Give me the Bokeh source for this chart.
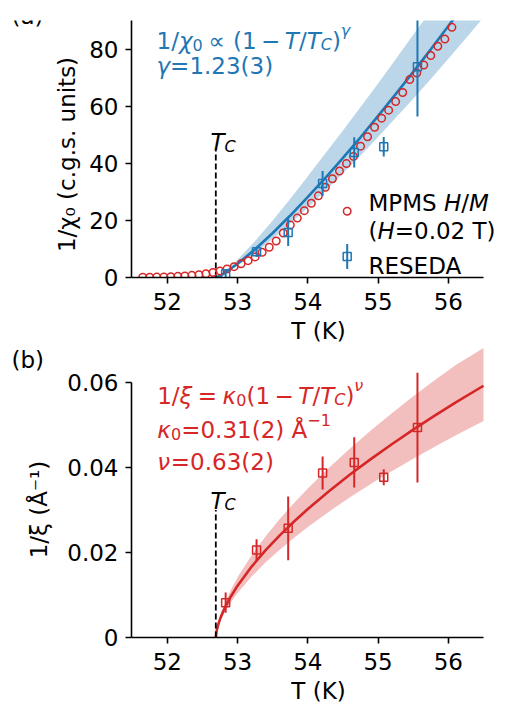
from math import pi
from bokeh.plotting import figure
from bokeh.models import Label, FixedTicker, Range1d, ColumnDataSource
from bokeh.layouts import column, row
from bokeh.embed import file_html
from bokeh.resources import INLINE

# ---------------- data ----------------
mpms_T = [51.65, 51.75, 51.85, 51.95, 52.05, 52.15, 52.25, 52.35, 52.45, 52.55,
          52.65, 52.75, 52.85, 52.95, 53.05, 53.15, 53.25, 53.35, 53.45, 53.55,
          53.65, 53.75, 53.85, 53.95, 54.05, 54.15, 54.25, 54.35, 54.45, 54.55,
          54.65, 54.75, 54.85, 54.95, 55.05, 55.15, 55.25, 55.35, 55.45, 55.55,
          55.65, 55.75, 55.85, 55.95, 56.05]
mpms_inv_chi = [0.1, 0.1, 0.15, 0.2, 0.3, 0.4, 0.55, 0.75, 1.0, 1.3,
                1.75, 2.3, 3.0, 3.8, 4.8, 5.9, 7.2, 8.8, 10.6, 12.8,
                15.6, 18.4, 20.8, 23.4, 26.0, 28.6, 31.6, 34.6, 37.3, 39.9,
                42.4, 46.0, 49.3, 52.6, 55.8, 58.6, 61.6, 64.8, 69.3, 71.6,
                74.4, 77.7, 81.0, 83.5, 87.6]

reseda_T = [52.83, 53.27, 53.72, 54.21, 54.66, 55.08, 55.56]
reseda_inv_chi = [1.3, 9.0, 15.8, 32.9, 43.8, 45.8, 73.8]
reseda_inv_chi_err = [1.4, 1.8, 4.8, 4.4, 5.3, 3.4, 17.4]
reseda_inv_xi = [0.0082, 0.0206, 0.0257, 0.0387, 0.0412, 0.0377, 0.0494]
reseda_inv_xi_err = [0.0024, 0.0025, 0.0075, 0.0039, 0.0059, 0.0019, 0.0129]

Tc = 52.69
tc_line_top = [45.0, 0.030]

fit_chi_T = [52.69, 52.75, 52.8, 53.0, 53.25, 53.5, 53.75, 54.0, 54.25, 54.5,
             54.75, 55.0, 55.25, 55.5, 55.75, 56.0, 56.25, 56.5]
fit_chi = [0.0, 0.63, 1.3, 4.8, 9.9, 15.6, 21.7, 28.2, 34.9, 41.9,
           49.1, 56.6, 64.2, 72.0, 79.9, 88.1, 96.3, 104.7]
fit_chi_hi = [0.0, 0.82, 1.69, 6.2, 12.8, 20.0, 27.6, 35.5, 43.5, 51.5,
              59.7, 67.9, 76.4, 85.0, 93.5, 102.2, 111.2, 120.4]
fit_chi_lo = [0.0, 0.55, 1.13, 4.2, 8.6, 13.6, 18.9, 24.5, 30.4, 36.5,
              42.7, 49.2, 55.9, 62.6, 69.5, 76.6, 83.8, 91.1]

fit_xi_T = [52.69, 52.70, 52.72, 52.75, 52.80, 52.90, 53.0, 53.2, 53.4, 53.6,
            53.8, 54.0, 54.3, 54.6, 54.9, 55.2, 55.5, 55.8, 56.1, 56.5]
fit_xi = [0.0, 0.00140, 0.00280, 0.00434, 0.00635, 0.00954, 0.01220, 0.01669, 0.02056, 0.02404,
          0.02724, 0.03024, 0.03443, 0.03835, 0.04204, 0.04554, 0.04891, 0.05214, 0.05525, 0.05924]
fit_xi_hi = [0.0, 0.00163, 0.00325, 0.00503, 0.00737, 0.01107, 0.01415, 0.01936, 0.02385, 0.02789,
             0.03160, 0.03508, 0.03994, 0.04449, 0.04877, 0.05283, 0.05674, 0.06048, 0.06409, 0.06810]
fit_xi_lo = [0.0, 0.00120, 0.00241, 0.00373, 0.00546, 0.00820, 0.01049, 0.01435, 0.01768, 0.02067,
             0.02343, 0.02601, 0.02961, 0.03298, 0.03615, 0.03916, 0.04206, 0.04484, 0.04752, 0.05095]

x_ticks = [52, 53, 54, 55, 56]
x_axis_span = (51.49, 56.5)
chi_ticks = [0, 20, 40, 60, 80]
xi_ticks = [0, 0.02, 0.04, 0.06]
xi_tick_labels = ["0", "0.02", "0.04", "0.06"]

# ---------------- styling ----------------
BLUE = "#1f77b4"
RED = "#d62728"
FONT = "DejaVu Sans"
FS = 23
SS = 16

W = {'0': .636, '1': .636, '2': .636, '3': .636, '4': .636, '5': .636, '6': .636,
     '7': .636, '8': .636, '9': .636, '/': .337, '(': .390, ')': .390, ' ': .318,
     '=': .838, '.': .318, '−': .838, '∝': .838, 'T': .611, 'C': .698, 'H': .752,
     'M': .863, 'P': .603, 'S': .635, 'R': .695, 'E': .632, 'D': .770, 'A': .684,
     'Å': .684, 'χ': .594, 'γ': .592, 'ξ': .55, 'κ': .60, 'ν': .592}


def tw(s, size):
    return sum(W.get(ch, .6) for ch in s) * size


# layout in page pixels
GA, GB = 84, 60            # widths of the left gutters holding the side texts
H1 = 347                   # height of the top row
H2 = 711 - H1              # height of the bottom row
TOPF = dict(left=GA, top=0, L=131, T=20, W=374, H=257, x0=51.49, x1=56.813, y0=0.0, y1=90.0)
BOTF = dict(left=GB, top=H1, L=131, T=H1, W=374, H=290, x0=51.49, x1=56.813, y0=0.0, y1=0.06824)
GAF = dict(left=0, top=0)
GBF = dict(left=0, top=H1)


def to_data(f, px, py):
    return (f['x0'] + (px - f['L']) / f['W'] * (f['x1'] - f['x0']),
            f['y1'] - (py - f['T']) / f['H'] * (f['y1'] - f['y0']))


def label(p, f, px, py, text, size=FS, italic=False, color="black", align="left",
          baseline="alphabetic", angle=0.0):
    p.add_layout(Label(x=px - f['left'], y=py - f['top'], x_units="canvas", y_units="canvas",
                       text=text, text_font=FONT, text_font_size=f"{size}px",
                       text_font_style="italic" if italic else "normal",
                       text_color=color, text_align=align, text_baseline=baseline,
                       angle=angle))


def runs(p, f, px, py, parts, color):
    x = px
    for part in parts:
        if isinstance(part, (int, float)):
            x += part
            continue
        text, size, italic, dy = part
        label(p, f, x, py - dy, text, size, italic, color)
        x += tw(text, size)


def gutter(width, height):
    g = figure(width=width, height=height, x_range=Range1d(0, width), y_range=Range1d(0, height),
               min_border=0, min_border_left=0, min_border_right=0, min_border_top=0,
               min_border_bottom=0, x_axis_location=None, y_axis_location=None,
               output_backend="svg", toolbar_location=None,
               background_fill_color="white", border_fill_color="white")
    g.outline_line_color = None
    g.grid.visible = False
    return g


def make_fig(f, border_left, border_top, border_bottom):
    p = figure(frame_width=f['W'], frame_height=f['H'],
               x_range=Range1d(f['x0'], f['x1']), y_range=Range1d(f['y0'], f['y1']),
               min_border_left=border_left, min_border_right=5,
               min_border_top=border_top, min_border_bottom=border_bottom,
               output_backend="svg", toolbar_location=None,
               background_fill_color="white", border_fill_color="white")
    p.outline_line_color = None
    p.grid.visible = False
    for ax in (p.xaxis[0], p.yaxis[0]):
        ax.axis_line_width = 1.6
        ax.axis_line_color = "black"
        ax.major_tick_line_width = 1.6
        ax.major_tick_out = 6
        ax.major_tick_in = 0
        ax.minor_tick_line_color = None
        ax.major_label_text_font = FONT
        ax.major_label_text_font_size = f"{FS}px"
        ax.major_label_text_color = "black"
        ax.axis_label_text_font = FONT
        ax.axis_label_text_font_size = f"{FS}px"
        ax.axis_label_text_font_style = "normal"
        ax.axis_label_text_color = "black"
    p.xaxis.ticker = FixedTicker(ticks=x_ticks)
    p.xaxis.bounds = x_axis_span
    p.xaxis.axis_label = "T (K)"
    p.xaxis.major_label_standoff = 9
    p.xaxis.axis_label_standoff = 5
    p.yaxis.major_label_standoff = 7
    return p


# ---------------- top panel ----------------
p1 = make_fig(TOPF, TOPF['L'] - GA, TOPF['T'], H1 - TOPF['T'] - TOPF['H'])
p1.yaxis.ticker = FixedTicker(ticks=chi_ticks)

p1.varea(x=fit_chi_T, y1=fit_chi_lo, y2=fit_chi_hi, fill_color=BLUE, fill_alpha=0.3)
p1.line(fit_chi_T, fit_chi, line_color=BLUE, line_width=2.6)
p1.segment(x0=[Tc], y0=[0], x1=[Tc], y1=[tc_line_top[0]], line_color="black",
           line_width=1.8, line_dash="6 3")
p1.scatter(mpms_T, mpms_inv_chi, marker="circle", size=7.5, fill_color=None,
           line_color=RED, line_width=1.5)
src1 = ColumnDataSource(dict(x=reseda_T, y=reseda_inv_chi,
                             lo=[v - e for v, e in zip(reseda_inv_chi, reseda_inv_chi_err)],
                             hi=[v + e for v, e in zip(reseda_inv_chi, reseda_inv_chi_err)]))
p1.segment(x0="x", y0="lo", x1="x", y1="hi", source=src1, line_color=BLUE, line_width=2)
p1.scatter("x", "y", source=src1, marker="square", size=8, fill_color=None,
           line_color=BLUE, line_width=1.5)

# legend (drawn by hand)
lx, ly = to_data(TOPF, 346.7, 210.7)
p1.scatter([lx], [ly], marker="circle", size=7.5, fill_color=None, line_color=RED, line_width=1.5)
lx2, ly2 = to_data(TOPF, 346.7, 256)
_, ly2a = to_data(TOPF, 346.7, 243.5)
_, ly2b = to_data(TOPF, 346.7, 268.5)
p1.segment(x0=[lx2], y0=[ly2b], x1=[lx2], y1=[ly2a], line_color=BLUE, line_width=2)
p1.scatter([lx2], [ly2], marker="square", size=8, fill_color=None, line_color=BLUE, line_width=1.5)
runs(p1, TOPF, 368, 202.7, [("MPMS ", FS, False, 0), ("H", FS, True, 0), ("/", FS, False, 0),
                            ("M", FS, True, 0)], "black")
runs(p1, TOPF, 368, 230, [("(", FS, False, 0), ("H", FS, True, 0), ("=0.02 T)", FS, False, 0)], "black")
runs(p1, TOPF, 368, 265, [("RESEDA", FS, False, 0)], "black")

# annotations
runs(p1, TOPF, 156, 40, [("1/", FS, False, 0), ("χ", FS, True, 0), ("0", SS, False, -4), 5.5,
                         ("∝", FS, False, 0), 5.5, ("(1", FS, False, 0), 4.5, ("−", FS, False, 0), 4.5,
                         ("T", FS, True, 0), ("/", FS, False, 0), ("T", FS, True, 0),
                         ("C", SS, True, -4), (")", FS, False, 0), ("γ", SS, True, 10)], BLUE)
runs(p1, TOPF, 156, 65, [("γ", FS, True, 0), ("=1.23(3)", FS, False, 0)], BLUE)
runs(p1, TOPF, 210, 141.7, [("T", FS, True, 0), ("C", SS, True, -4)], "black")

# left gutter of the top row: panel tag and y-axis title
ga = gutter(GA, H1)
label(ga, GAF, 11, 15, "(a)", baseline="middle")
label(ga, GAF, 66.7, 154, "1/χ₀ (c.g.s. units)", align="center", baseline="middle", angle=pi / 2)

# ---------------- bottom panel ----------------
p2 = make_fig(BOTF, BOTF['L'] - GB, 0, H2 - BOTF['H'])
p2.yaxis.ticker = FixedTicker(ticks=xi_ticks)
p2.yaxis.major_label_overrides = dict(zip(xi_ticks, xi_tick_labels))
p2.yaxis.bounds = (xi_ticks[0], xi_ticks[-1])

p2.varea(x=fit_xi_T, y1=fit_xi_lo, y2=fit_xi_hi, fill_color=RED, fill_alpha=0.3)
p2.line(fit_xi_T, fit_xi, line_color=RED, line_width=2.6)
p2.segment(x0=[Tc], y0=[0], x1=[Tc], y1=[tc_line_top[1]], line_color="black",
           line_width=1.8, line_dash="6 3")
src2 = ColumnDataSource(dict(x=reseda_T, y=reseda_inv_xi,
                             lo=[v - e for v, e in zip(reseda_inv_xi, reseda_inv_xi_err)],
                             hi=[v + e for v, e in zip(reseda_inv_xi, reseda_inv_xi_err)]))
p2.segment(x0="x", y0="lo", x1="x", y1="hi", source=src2, line_color=RED, line_width=2)
p2.scatter("x", "y", source=src2, marker="square", size=8, fill_color=None,
           line_color=RED, line_width=1.5)

runs(p2, BOTF, 156.7, 395, [("1/", FS, False, 0), ("ξ", FS, True, 0), 5.5, ("=", FS, False, 0), 5.5,
                            ("κ", FS, True, 0), ("0", SS, False, -4), ("(1", FS, False, 0), 4.5,
                            ("−", FS, False, 0), 4.5, ("T", FS, True, 0), ("/", FS, False, 0),
                            ("T", FS, True, 0), ("C", SS, True, -4), (")", FS, False, 0),
                            ("ν", SS, True, 10)], RED)
runs(p2, BOTF, 156.7, 429.3, [("κ", FS, True, 0), ("0", SS, False, -4), ("=0.31(2) Å", FS, False, 0),
                              ("−1", SS, False, 10)], RED)
runs(p2, BOTF, 156.7, 461.7, [("ν", FS, True, 0), ("=0.63(2)", FS, False, 0)], RED)
runs(p2, BOTF, 210, 500, [("T", FS, True, 0), ("C", SS, True, -4)], "black")

gb = gutter(GB, H2)
label(gb, GBF, 11, 359, "(b)", baseline="middle")
label(gb, GBF, 38.7, 509, "1/ξ (Å⁻¹)", align="center", baseline="middle", angle=pi / 2)

layout = column(row(ga, p1), row(gb, p2))
open("out.html", "w").write(file_html(layout, INLINE))
